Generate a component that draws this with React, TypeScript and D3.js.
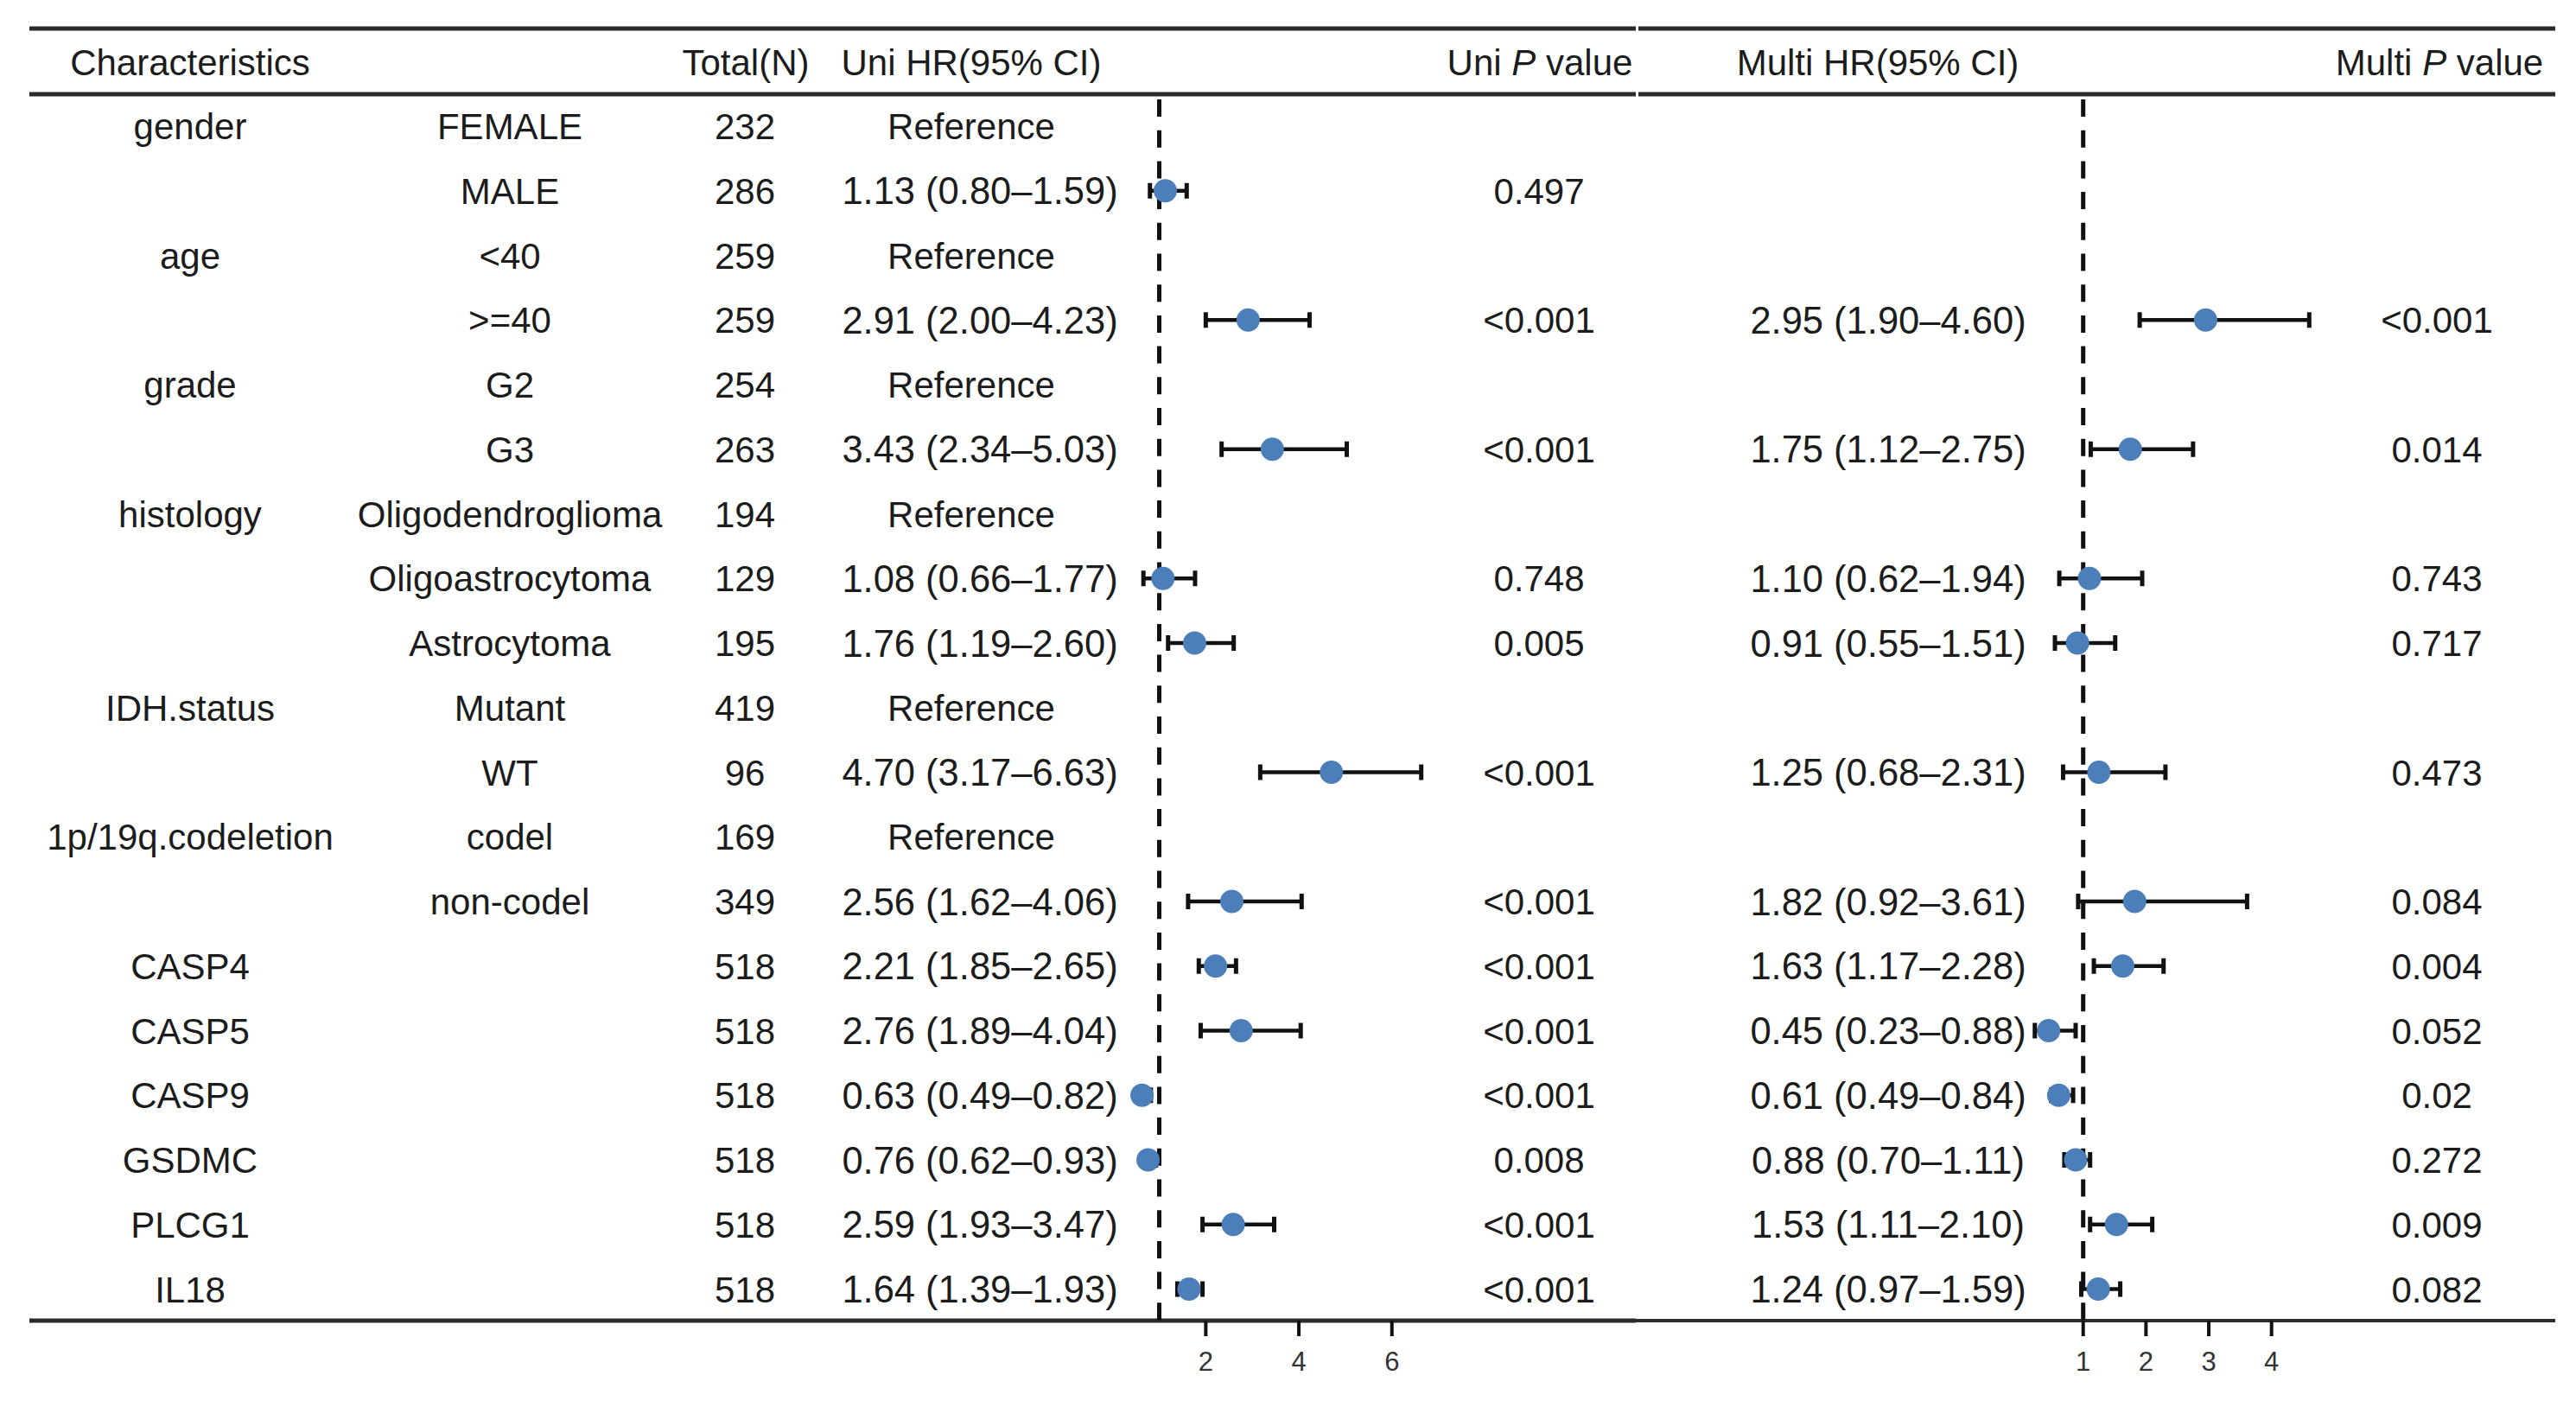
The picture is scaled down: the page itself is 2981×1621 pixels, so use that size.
import React, { useEffect, useRef } from 'react';
import * as d3 from 'd3';

// table rows, top to bottom
const groups = ['gender', '', 'age', '', 'grade', '', 'histology', '', '', 'IDH.status', '', '1p/19q.codeletion', '', 'CASP4', 'CASP5', 'CASP9', 'GSDMC', 'PLCG1', 'IL18'];
const subgroups = ['FEMALE', 'MALE', '<40', '>=40', 'G2', 'G3', 'Oligodendroglioma', 'Oligoastrocytoma', 'Astrocytoma', 'Mutant', 'WT', 'codel', 'non-codel', '', '', '', '', '', ''];
const totals = [232, 286, 259, 259, 254, 263, 194, 129, 195, 419, 96, 169, 349, 518, 518, 518, 518, 518, 518];
const isReference = [true, false, true, false, true, false, true, false, false, true, false, true, false, false, false, false, false, false, false];

// univariate cox (null = reference level)
const uniHR = [null, 1.13, null, 2.91, null, 3.43, null, 1.08, 1.76, null, 4.70, null, 2.56, 2.21, 2.76, 0.63, 0.76, 2.59, 1.64];
const uniLow = [null, 0.80, null, 2.00, null, 2.34, null, 0.66, 1.19, null, 3.17, null, 1.62, 1.85, 1.89, 0.49, 0.62, 1.93, 1.39];
const uniHigh = [null, 1.59, null, 4.23, null, 5.03, null, 1.77, 2.60, null, 6.63, null, 4.06, 2.65, 4.04, 0.82, 0.93, 3.47, 1.93];
const uniP = ['', '0.497', '', '<0.001', '', '<0.001', '', '0.748', '0.005', '', '<0.001', '', '<0.001', '<0.001', '<0.001', '<0.001', '0.008', '<0.001', '<0.001'];

// multivariate cox (null = not in model / reference)
const multiHR = [null, null, null, 2.95, null, 1.75, null, 1.10, 0.91, null, 1.25, null, 1.82, 1.63, 0.45, 0.61, 0.88, 1.53, 1.24];
const multiLow = [null, null, null, 1.90, null, 1.12, null, 0.62, 0.55, null, 0.68, null, 0.92, 1.17, 0.23, 0.49, 0.70, 1.11, 0.97];
const multiHigh = [null, null, null, 4.60, null, 2.75, null, 1.94, 1.51, null, 2.31, null, 3.61, 2.28, 0.88, 0.84, 1.11, 2.10, 1.59];
const multiP = ['', '', '', '<0.001', '', '0.014', '', '0.743', '0.717', '', '0.473', '', '0.084', '0.004', '0.052', '0.02', '0.272', '0.009', '0.082'];

const uniTicks = [2, 4, 6];
const multiTicks = [1, 2, 3, 4];

const W = 2981;
const H = 1621;
const FONT = '"Liberation Sans", Arial, Helvetica, sans-serif';
const TEXT = '#1c1c1c';
const BLUE = '#4c7fb9';

const App: React.FC = () => {
  const svgRef = useRef<SVGSVGElement>(null);

  useEffect(() => {
    const svg = d3.select(svgRef.current);
    svg.selectAll('*').remove();

    const rowY = d3.scaleLinear().domain([0, 1]).range([146, 146 + 74.75]);
    const xUni = d3.scaleLinear().domain([1, 6]).range([1341.5, 1610.75]);
    const xMulti = d3.scaleLinear().domain([1, 4]).range([2410.7, 2628.7]);
    const fmt = d3.format('.2f');
    const hrText = (h: number, l: number, u: number) => `${fmt(h)} (${fmt(l)}\u2013${fmt(u)})`;

    const topY = 33;
    const headY = 109;
    const botY = 1528;
    const rows = d3.range(groups.length);

    // horizontal rules, split at the uni / multi boundary
    const rules = [
      { x1: 34, x2: 1893, y: topY, w: 5 },
      { x1: 1896, x2: 2957, y: topY, w: 5 },
      { x1: 34, x2: 1893, y: headY, w: 5 },
      { x1: 1896, x2: 2957, y: headY, w: 5 },
      { x1: 34, x2: 1893, y: botY, w: 5 },
      { x1: 1893, x2: 2957, y: botY, w: 4 },
    ];
    svg
      .append('g')
      .selectAll('line')
      .data(rules)
      .join('line')
      .attr('x1', (d) => d.x1)
      .attr('x2', (d) => d.x2)
      .attr('y1', (d) => d.y)
      .attr('y2', (d) => d.y)
      .attr('stroke', '#2a2a2a')
      .attr('stroke-width', (d) => d.w);

    // header
    const head = svg
      .append('g')
      .attr('font-family', FONT)
      .attr('font-size', 42)
      .attr('fill', TEXT)
      .attr('text-anchor', 'middle');
    const headers = [
      { x: 220, pre: 'Characteristics', it: '', post: '' },
      { x: 863, pre: 'Total(N)', it: '', post: '' },
      { x: 1124, pre: 'Uni HR(95% CI)', it: '', post: '' },
      { x: 1782, pre: 'Uni ', it: 'P', post: ' value' },
      { x: 2173, pre: 'Multi HR(95% CI)', it: '', post: '' },
      { x: 2823, pre: 'Multi ', it: 'P', post: ' value' },
    ];
    headers.forEach((h) => {
      const t = head.append('text').attr('x', h.x).attr('y', 72).attr('dy', '0.36em');
      t.append('tspan').text(h.pre);
      if (h.it) {
        t.append('tspan').attr('font-style', 'italic').text(h.it);
        t.append('tspan').text(h.post);
      }
    });

    // table body text
    const body = svg
      .append('g')
      .attr('font-family', FONT)
      .attr('font-size', 42)
      .attr('fill', TEXT)
      .attr('text-anchor', 'middle');

    const col = (x: number | ((i: number) => number), fn: (i: number) => string, size = 42) => {
      body
        .append('g')
        .attr('font-size', size)
        .selectAll('text')
        .data(rows)
        .join('text')
        .attr('x', x as any)
        .attr('y', (i) => rowY(i))
        .attr('dy', '0.36em')
        .text(fn);
    };
    col(220, (i) => groups[i]);
    col(590, (i) => subgroups[i]);
    col(862, (i) => String(totals[i]));
    col(1124, (i) => (isReference[i] ? 'Reference' : ''));
    col(1134, (i) => (uniHR[i] == null ? '' : hrText(uniHR[i]!, uniLow[i]!, uniHigh[i]!)), 43.5);
    col(1781, (i) => uniP[i]);
    col(2185, (i) => (multiHR[i] == null ? '' : hrText(multiHR[i]!, multiLow[i]!, multiHigh[i]!)), 43.5);
    col(2820, (i) => multiP[i]);

    // forest panels
    const forest = (x: d3.ScaleLinear<number, number>, hr: (number | null)[], lo: (number | null)[], hi: (number | null)[], ticks: number[]) => {
      const g = svg.append('g');
      g.append('line')
        .attr('x1', x(1))
        .attr('x2', x(1))
        .attr('y1', 115)
        .attr('y2', botY)
        .attr('stroke', '#111')
        .attr('stroke-width', 5)
        .attr('stroke-dasharray', '20 15.7');

      const pts = rows.filter((i) => hr[i] != null);
      g.append('g')
        .selectAll('line')
        .data(pts)
        .join('line')
        .attr('x1', (i) => x(lo[i]!))
        .attr('x2', (i) => x(hi[i]!))
        .attr('y1', (i) => rowY(i))
        .attr('y2', (i) => rowY(i))
        .attr('stroke', '#111')
        .attr('stroke-width', 4.5);

      const caps = pts.flatMap((i) => [
        { i, v: lo[i]! },
        { i, v: hi[i]! },
      ]);
      g.append('g')
        .selectAll('line')
        .data(caps)
        .join('line')
        .attr('x1', (d) => x(d.v))
        .attr('x2', (d) => x(d.v))
        .attr('y1', (d) => rowY(d.i) - 9)
        .attr('y2', (d) => rowY(d.i) + 9)
        .attr('stroke', '#111')
        .attr('stroke-width', 5);

      g.append('g')
        .selectAll('circle')
        .data(pts)
        .join('circle')
        .attr('cx', (i) => x(hr[i]!))
        .attr('cy', (i) => rowY(i))
        .attr('r', 13.5)
        .attr('fill', BLUE);

      const ax = g.append('g').attr('transform', `translate(0,${botY})`);
      ax.selectAll('line')
        .data(ticks)
        .join('line')
        .attr('x1', (d) => x(d))
        .attr('x2', (d) => x(d))
        .attr('y1', 0)
        .attr('y2', 18)
        .attr('stroke', '#111')
        .attr('stroke-width', 4);
      ax.selectAll('text')
        .data(ticks)
        .join('text')
        .attr('x', (d) => x(d))
        .attr('y', 47)
        .attr('dy', '0.36em')
        .attr('text-anchor', 'middle')
        .attr('font-family', FONT)
        .attr('font-size', 31)
        .attr('fill', '#333')
        .text((d) => d);
    };

    forest(xUni, uniHR, uniLow, uniHigh, uniTicks);
    forest(xMulti, multiHR, multiLow, multiHigh, multiTicks);
  }, []);

  return (
    <div style={{ position: 'absolute', left: 0, top: 0, width: W, height: H, background: '#fff' }}>
      <svg ref={svgRef} width={W} height={H} style={{ display: 'block' }} />
    </div>
  );
};

export default App;
